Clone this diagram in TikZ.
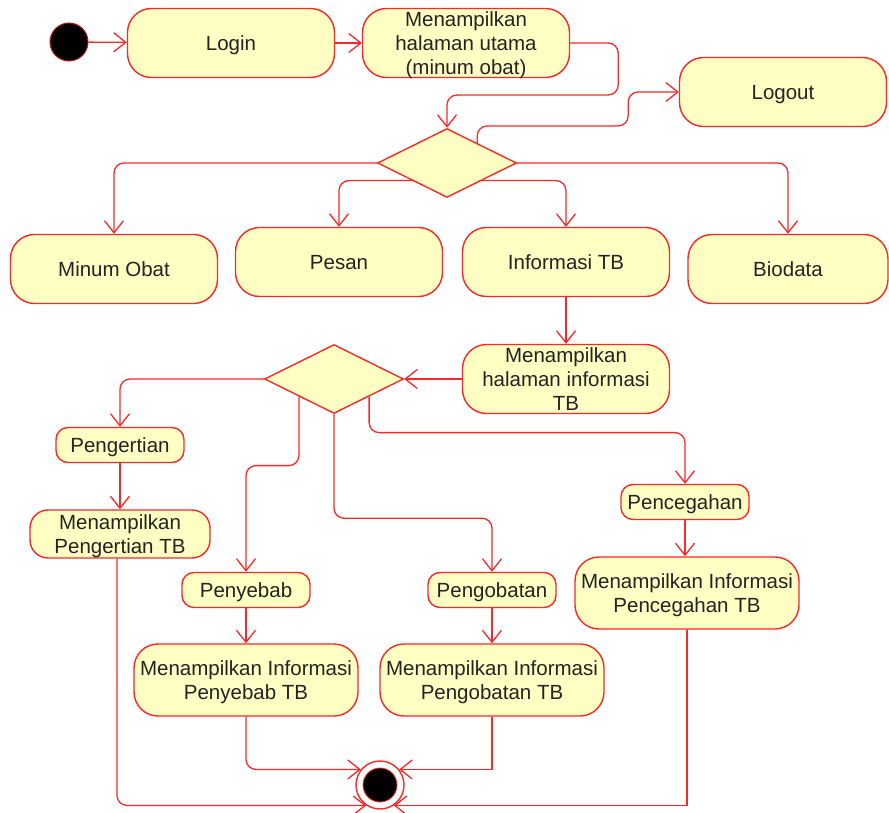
\documentclass[tikz,border=0pt]{standalone}
\usepackage{fontspec}
\setmainfont{Liberation Sans}
\usetikzlibrary{shapes.geometric,arrows.meta,calc}
\definecolor{umlred}{RGB}{250,40,40}
\definecolor{umlfill}{RGB}{255,255,196}
\definecolor{umltext}{RGB}{35,35,35}
\newcommand\umlfont{\fontsize{20.5}{24}\selectfont}
\begin{document}
\begin{tikzpicture}[x=1pt,y=-1pt,
  base/.style={draw=umlred, fill=umlfill, line width=1.4pt, inner sep=0pt,
    align=center, font=\umlfont, text=umltext, text depth=0pt},
  act/.style={base, rounded corners=24pt, minimum width=207pt, minimum height=69pt},
  wact/.style={base, rounded corners=24pt, minimum width=224pt, minimum height=72pt},
  mact/.style={base, rounded corners=18pt, minimum width=180pt, minimum height=48pt},
  sact/.style={base, rounded corners=12pt, minimum width=128pt, minimum height=35pt},
  dec/.style={base, shape=diamond, minimum width=139pt, minimum height=69pt},
  flow/.style={draw=umlred, line width=1.3pt,
    -{Straight Barb[length=12pt,width=19pt,line width=1.3pt]}},
  elbow/.style={flow, rounded corners=10pt}]
\useasboundingbox (0,0) rectangle (889,813);

% start node
\node[circle, fill=black, draw=umlred!70!black, line width=1pt,
  minimum size=38pt, inner sep=0pt] (start) at (69,42) {};

% activities
\node[act] (login) at (231,43) {Login};
\node[act] (mu) at (466,43) {Menampilkan\\halaman utama\\(minum obat)};
\node[act] (logout) at (783,92) {Logout};
\node[dec] (d1) at (447,163) {};
\node[act] (mo) at (114,269) {Minum Obat};
\node[act] (pesan) at (339,262) {Pesan};
\node[act] (info) at (566,262) {Informasi TB};
\node[act, minimum width=200pt] (bio) at (788,269) {Biodata};
\node[act] (hi) at (566,379) {Menampilkan\\halaman informasi\\TB};
\node[dec] (d2) at (334,379) {};
\node[sact] (peng) at (120,445) {Pengertian};
\node[mact] (mpeng) at (120,534) {Menampilkan\\Pengertian TB};
\node[sact] (peny) at (246,590) {Penyebab};
\node[wact] (mpeny) at (246,680) {Menampilkan Informasi\\Penyebab TB};
\node[sact] (pgob) at (492,590) {Pengobatan};
\node[wact] (mpgob) at (492,680) {Menampilkan Informasi\\Pengobatan TB};
\node[sact] (pcg) at (685,502) {Pencegahan};
\node[wact] (mpcg) at (687,593) {Menampilkan Informasi\\Pencegahan TB};

% final node
\node[circle, draw=umlred, fill=white, line width=1.4pt,
  minimum size=48pt, inner sep=0pt] (fin) at (380,785) {};
\node[circle, fill=black, draw=umlred, line width=0.8pt,
  minimum size=34pt, inner sep=0pt] (fincore) at (fin.center) {};

% main flow
\draw[flow] (start) -- (login);
\draw[flow] (login) -- (mu);
\draw[elbow] (mu.east) -- ++(48,0) -- ++(0,52) -| (d1.north);
\coordinate (d1up) at ($(d1.north)!0.43!(d1.east)$);
\draw[elbow] (d1up) -- ++(0,-17) -- ++(151,0) |- (logout.west);
\draw[elbow] (d1.west) -| (mo.north);
\draw[elbow] (d1.south west) -| (pesan.north);
\draw[elbow] (d1.south east) -| (info.north);
\draw[elbow] (d1.east) -| (bio.north);

% information branch
\draw[flow] (info.south) -- (hi.north);
\draw[flow] (hi.west) -- (d2.east);
\draw[elbow] (d2.west) -| (peng.north);
\draw[elbow] (d2.south west) -- ++(0,69) -| (peny.north);
\draw[elbow] (d2.south) -- ++(0,104) -| (pgob.north);
\draw[elbow] (d2.south east) -- ++(0,36) -| (pcg.north);

\draw[flow] (peng) -- (mpeng);
\draw[flow] (peny) -- (mpeny);
\draw[flow] (pgob) -- (mpgob);
\draw[flow] (pcg.south) -- (pcg.south |- mpcg.north);

% into the final node
\draw[elbow] ([xshift=-3pt]mpeng.south) |- (fin.236);
\draw[elbow] (mpeny.south) |- (fin.141);
\draw[flow] (mpgob.south) |- (fin.39);
\draw[flow] (mpcg.south) |- (fin.304);
\end{tikzpicture}
\end{document}
